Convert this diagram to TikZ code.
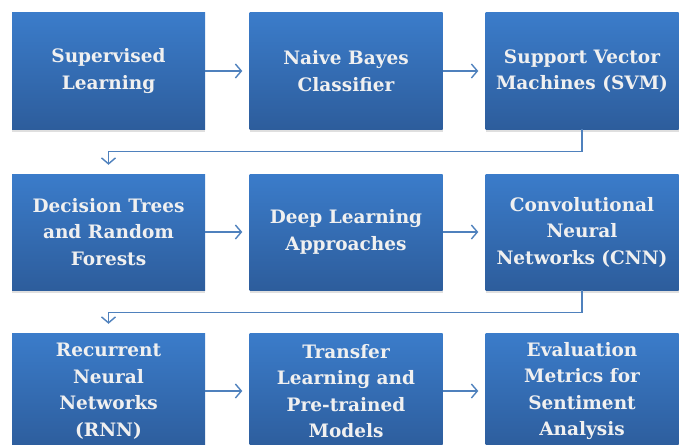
\documentclass[tikz,border=0pt]{standalone}
\usepackage{fontspec}
\setmainfont{DejaVu Serif}
\usetikzlibrary{
  arrows.meta,
  positioning,
  shadows,
  calc
}
\definecolor{boxtop}{HTML}{3B7CCA}
\definecolor{boxbottom}{HTML}{2D5D9C}
\definecolor{linkblue}{HTML}{4F81BD}

\begin{document}
\begin{tikzpicture}[x=1pt,y=-1pt]
\useasboundingbox (0,0) rectangle (684,444);
\clip (0,0) rectangle (684,444);
\begin{scope}[every node/.style={rectangle,inner sep=0pt,
      minimum width=193pt,minimum height=116pt,
      top color=boxtop,bottom color=boxbottom,
      drop shadow={shadow xshift=0pt,shadow yshift=-3pt,opacity=0.25},
      text=white!94!black,font=\bfseries\fontsize{18.5}{26.5}\selectfont,
      align=center}]
    \node (sup) at (108.5,71) {Supervised\\Learning};
    \node (nb)  at (346,71)   {Naive Bayes\\Classifier};
    \node (svm) at (582,71)   {Support Vector\\Machines (SVM)};
    \node (dt)  at (108.5,232) {Decision Trees\\and Random\\Forests};
    \node (dl)  at (346,232)   {Deep Learning\\Approaches};
    \node (cnn) at (582,232)   {Convolutional\\Neural\\Networks (CNN)};
    \node (rnn) at (108.5,391) {Recurrent\\Neural\\Networks\\(RNN)};
    \node (tl)  at (346,391)   {Transfer\\Learning and\\Pre-trained\\Models};
    \node (eval) at (582,391)  {Evaluation\\Metrics for\\Sentiment\\Analysis};
\end{scope}

\begin{scope}[>={Straight Barb[length=6pt,width=14pt]},
              every path/.style={draw=linkblue,line width=1.4pt}]
    \path [->,shorten >=7pt] (sup) edge (nb);
    \path [->,shorten >=7pt] (nb) edge (svm);
    \path [->,shorten >=7pt] (dt) edge (dl);
    \path [->,shorten >=7pt] (dl) edge (cnn);
    \path [->,shorten >=7pt] (rnn) edge (tl);
    \path [->,shorten >=7pt] (tl) edge (eval);
    % wrap from the end of one row to the start of the next
    \draw [->,shorten >=9pt] (svm.south) -- ++(0,22) -| (dt.north);
    \draw [->,shorten >=9pt] (cnn.south) -- ++(0,22) -| (rnn.north);
\end{scope}
\end{tikzpicture}
\end{document}
